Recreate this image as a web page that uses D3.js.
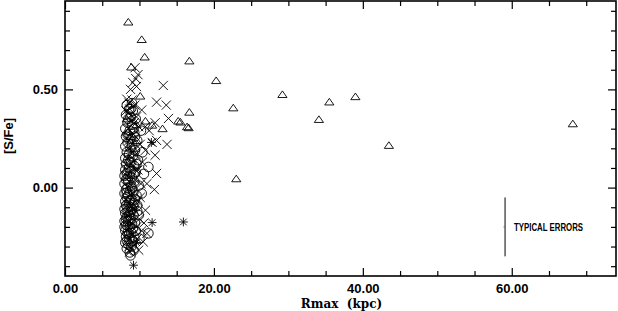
<!DOCTYPE html>
<html>
<head>
  <meta charset="utf-8">
  <title>[S/Fe] vs Rmax</title>
  <script src="https://cdn.jsdelivr.net/npm/d3@7"></script>
  <style>
    body { margin: 0; background: #fff; }
    svg { display: block; }
    .tick text { font-family: "Liberation Sans", Arial, sans-serif; font-weight: bold; font-size: 13px; fill: #000; }
  </style>
</head>
<body>
  <svg class="plot" width="618" height="311"></svg>
  <script>
    "use strict";

    // open triangles [Rmax, S/Fe]
    var triangles = [
      [8.5,0.843],[10.3,0.754],[10.7,0.665],[8.9,0.614],[16.7,0.645],[20.3,0.545],
      [29.2,0.474],[35.5,0.436],[39.0,0.463],[34.1,0.347],[22.6,0.406],[43.5,0.215],
      [23.0,0.045],[68.2,0.325],[16.7,0.384],[15.2,0.339],[15.5,0.334],[16.4,0.31],
      [16.6,0.305],[13.1,0.30],[11.7,0.318],[10.8,0.339],[10.1,0.466],[8.5,0.284],
      [9.6,0.24],[9.6,0.32],[8.3,0.35],[8.8,0.26],[9.1,0.20]
    ];

    // crosses
    var crosses = [
      [9.4,0.61],[9.8,0.575],[9.5,0.555],[9.1,0.535],[8.8,0.50],[9.6,0.515],[13.2,0.52],
      [9.0,0.445],[12.3,0.435],[13.6,0.42],[10.3,0.395],[13.9,0.352],[12.1,0.33],
      [8.7,0.40],[8.9,0.37],[9.6,0.36],[10.8,0.31],[11.3,0.29],[11.7,0.23],[12.3,0.24],
      [13.7,0.22],[12.1,0.165],[10.8,0.19],[12.3,0.072],[12.0,-0.01],[11.0,0.02],
      [10.8,-0.115],[11.0,-0.233],[10.5,-0.276],[8.7,-0.327],[9.9,-0.318],
      [8.3,0.45],[8.6,0.43],[9.4,0.42],[8.2,0.39],[8.9,0.34],[9.9,0.31],[8.5,0.30],
      [9.2,0.27],[8.3,0.25],[10.1,0.22],[8.7,0.21],[9.5,0.17],[8.4,0.15],[10.4,0.13],
      [8.9,0.12],[9.8,0.09],[8.3,0.06],[9.4,0.04],[10.2,0.02],[8.6,0.00],[9.1,-0.03],
      [8.2,-0.06],[9.8,-0.07],[8.8,-0.09],[9.4,-0.12],[8.3,-0.14],[10.0,-0.16],
      [8.9,-0.18],[9.6,-0.20],[8.4,-0.21],[10.3,-0.22],[9.0,-0.24],[8.5,-0.27],
      [9.3,-0.29],[8.9,-0.31],[8.6,-0.30],[9.7,-0.26],[10.6,-0.18],[9.2,-0.10],
      [8.1,0.10],[9.0,0.18],[8.6,0.24],[9.3,0.33],[8.4,-0.25],[10.1,-0.05],[9.5,0.09]
    ];

    // open circles
    var circles = [
      [8.3,0.42],[8.6,0.40],[9.1,0.39],[8.2,0.37],[8.8,0.36],[9.5,0.35],[8.4,0.33],
      [9.0,0.32],[8.1,0.30],[8.7,0.29],[9.3,0.28],[8.2,0.26],[8.9,0.25],[9.7,0.24],
      [8.4,0.23],[8.1,0.21],[8.8,0.20],[9.4,0.19],[8.3,0.18],[8.6,0.17],[9.1,0.16],
      [8.1,0.15],[8.5,0.14],[9.8,0.14],[8.9,0.13],[8.2,0.12],[9.3,0.11],[8.6,0.10],
      [11.2,0.105],[8.1,0.09],[8.8,0.08],[9.5,0.08],[8.3,0.07],[10.6,0.07],[8.7,0.06],
      [9.0,0.05],[8.2,0.04],[8.5,0.03],[9.3,0.03],[8.0,0.02],[8.9,0.01],[9.9,0.01],
      [8.4,0.00],[8.2,-0.01],[8.7,-0.02],[9.2,-0.02],[8.0,-0.03],[8.5,-0.04],[9.6,-0.04],
      [8.3,-0.05],[8.9,-0.06],[8.1,-0.07],[8.6,-0.08],[9.3,-0.08],[8.2,-0.09],[8.8,-0.10],
      [8.0,-0.11],[9.0,-0.11],[8.4,-0.12],[9.7,-0.12],[8.1,-0.13],[8.6,-0.14],[9.2,-0.14],
      [8.3,-0.15],[8.9,-0.16],[8.0,-0.17],[8.5,-0.17],[9.4,-0.18],[8.2,-0.19],[8.7,-0.20],
      [9.1,-0.21],[8.1,-0.22],[8.4,-0.23],[8.9,-0.23],[11.2,-0.233],[8.2,-0.25],[8.6,-0.26],
      [9.3,-0.25],[10.0,-0.26],[8.1,-0.28],[8.5,-0.29],[8.9,-0.30],[8.3,-0.31],[8.7,-0.33],
      [8.8,-0.345],[9.0,0.43],[8.5,0.35],[9.2,0.30],[8.4,0.27],[9.0,0.22],[8.7,0.13],
      [9.2,0.07],[8.4,0.045],[9.0,-0.005],[8.3,-0.025],[9.4,-0.06],[8.7,-0.065],[9.1,-0.09],
      [8.4,-0.10],[8.8,-0.125],[8.2,-0.16],[8.7,-0.165],[9.0,-0.185],[8.4,-0.195],[9.5,-0.22],
      [8.6,-0.235],[9.1,-0.27],[8.3,-0.27],[10.4,0.18],[10.2,0.29],[9.9,-0.14],[10.3,-0.03],
      [8.8,0.40],[9.4,0.26],[9.6,0.12],[8.0,0.06],[9.7,-0.09],[8.0,-0.20],[9.2,-0.32]
    ];

    // asterisks
    var asterisks = [
      [15.9,-0.175],[9.2,-0.395],[11.7,-0.178],[11.6,0.23],[9.6,-0.28]
    ];

    // axis ticks and labels
    var xMajor = [0, 20, 40, 60];
    var xMinor = [5, 10, 15, 25, 30, 35, 45, 50, 55, 65, 70];
    var yMajor = [0, 0.5];
    var yMinor = [-0.4, -0.3, -0.2, -0.1, 0.1, 0.2, 0.3, 0.4, 0.6, 0.7, 0.8, 0.9];
    var xTitle = "Rmax  (kpc)";
    var yTitle = "[S/Fe]";

    // typical error bar
    var errLabel = "TYPICAL ERRORS";
    var errX = 59.1;
    var errY = -0.2;
    var errHalf = 0.15;

    var svg = d3.select("svg.plot");
    var mLeft = 65, mRight = 616, mTop = 1, mBottom = 276;

    var x = d3.scaleLinear().domain([0, 74]).range([mLeft, mRight]);
    var y = d3.scaleLinear().domain([-0.45, 0.95]).range([mBottom, mTop]);
    var fmt = d3.format(".2f");

    // ticks point inwards on all four sides
    function addAxis(axis, tx, ty, vals, size, labels) {
      var g = svg.append("g")
        .attr("transform", "translate(" + tx + "," + ty + ")")
        .call(axis.tickValues(vals).tickSize(-size)
                  .tickPadding(labels ? 8 : 0)
                  .tickFormat(labels ? fmt : ""));
      g.select(".domain").remove();
      g.selectAll("line").attr("stroke", "#000").attr("stroke-width", 1.2);
      return g;
    }

    addAxis(d3.axisBottom(x), 0, mBottom, xMajor, 8, true);
    addAxis(d3.axisBottom(x), 0, mBottom, xMinor, 5, false);
    addAxis(d3.axisTop(x), 0, mTop, xMajor, 8, false);
    addAxis(d3.axisTop(x), 0, mTop, xMinor, 5, false);
    addAxis(d3.axisLeft(y), mLeft, 0, yMajor, 8, true).selectAll("text").attr("dx", 1);
    addAxis(d3.axisLeft(y), mLeft, 0, yMinor, 5, false);
    addAxis(d3.axisRight(y), mRight, 0, yMajor, 8, false);
    addAxis(d3.axisRight(y), mRight, 0, yMinor, 5, false);

    svg.append("rect")
      .attr("x", mLeft).attr("y", mTop)
      .attr("width", mRight - mLeft).attr("height", mBottom - mTop)
      .attr("fill", "none").attr("stroke", "#000").attr("stroke-width", 1.6);

    // custom open symbols
    var triType = { draw: function(c, s) {
      c.moveTo(0, -3.6); c.lineTo(4.6, 3); c.lineTo(-4.6, 3); c.closePath();
    }};
    var xType = { draw: function(c, s) {
      c.moveTo(-4.6, -4.6); c.lineTo(4.6, 4.6);
      c.moveTo(4.6, -4.6); c.lineTo(-4.6, 4.6);
    }};
    var circType = { draw: function(c, s) {
      c.moveTo(4.8, 0); c.arc(0, 0, 4.8, 0, 2 * Math.PI);
    }};
    var starType = { draw: function(c, s) {
      c.moveTo(-3.3, -3.3); c.lineTo(3.3, 3.3);
      c.moveTo(3.3, -3.3); c.lineTo(-3.3, 3.3);
      c.moveTo(0, -4.4); c.lineTo(0, 4.4);
      c.moveTo(-4.4, 0); c.lineTo(4.4, 0);
    }};

    function plot(data, type, cls) {
      svg.append("g").attr("class", cls)
        .selectAll("path")
        .data(data)
        .enter()
        .append("path")
        .attr("d", d3.symbol(type, 64))
        .attr("transform", function(d) {
          return "translate(" + x(d[0]) + "," + y(d[1]) + ")";
        })
        .attr("fill", "none")
        .attr("stroke", "#000")
        .attr("stroke-width", 0.9);
    }

    plot(circles, circType, "circles");
    plot(crosses, xType, "crosses");
    plot(triangles, triType, "triangles");
    plot(asterisks, starType, "asterisks");

    // error bar
    svg.append("line")
      .attr("x1", x(errX)).attr("x2", x(errX))
      .attr("y1", y(errY - errHalf)).attr("y2", y(errY + errHalf))
      .attr("stroke", "#000").attr("stroke-width", 1);
    svg.append("line")
      .attr("x1", x(errX) - 1.5).attr("x2", x(errX))
      .attr("y1", y(errY)).attr("y2", y(errY))
      .attr("stroke", "#666").attr("stroke-width", 1);
    svg.append("text")
      .attr("x", x(errX) + 9).attr("y", y(errY) + 3.8)
      .attr("textLength", 69).attr("lengthAdjust", "spacingAndGlyphs")
      .style("font-family", "'Liberation Sans', Arial, sans-serif")
      .style("font-weight", "bold").style("font-size", "10px")
      .text(errLabel);

    // axis titles
    svg.append("text")
      .attr("x", (mLeft + mRight) / 2 + 1).attr("y", 308)
      .attr("text-anchor", "middle")
      .style("font-family", "'DejaVu Serif', serif")
      .style("font-weight", "bold").style("font-size", "12px")
      .style("white-space", "pre")
      .text(xTitle);

    svg.append("text")
      .attr("transform", "translate(13,136) rotate(-90)")
      .attr("text-anchor", "middle")
      .style("font-family", "'Liberation Sans', Arial, sans-serif")
      .style("font-weight", "bold").style("font-size", "13px")
      .text(yTitle);
  </script>
</body>
</html>
